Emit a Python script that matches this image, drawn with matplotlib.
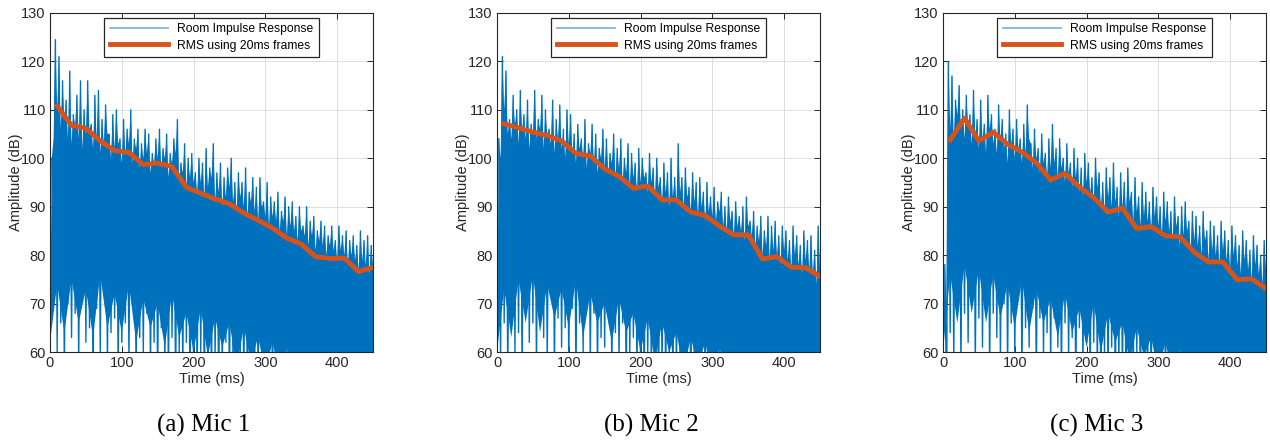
import numpy as np
import matplotlib
matplotlib.use("Agg")
import matplotlib.pyplot as plt

# Room impulse response (dB):
#   peaks   - spike tips at t = 2.5, 7.5, ... 447.5 ms
#   notches - dips between spikes at t = 5, 10, ... 450 ms
#   troughs - lowest excursions at t = 5, 10, ... 450 ms (below 60 = off axis)
#   floor   - lower edge of the solid part of the trace at t = 0, 10, ... 450 ms
mic1_peaks = [
    100, 124.5, 121, 116, 112, 118, 109, 113, 116, 110,
    116, 107, 113, 114, 108, 111, 105, 109, 110, 104,
    108, 106, 110, 104, 106, 103, 106, 105, 101, 104,
    106, 102, 105, 101, 104, 108, 99, 103, 100, 101,
    97, 100, 99, 102, 98, 103, 97, 99, 96, 98,
    100, 95, 97, 95, 98, 93, 96, 94, 96, 91,
    95, 92, 91, 93, 89, 92, 90, 91, 88, 90,
    86, 90, 87, 88, 85, 87, 86, 84, 86, 83,
    86, 84, 85, 83, 84, 82, 85, 83, 84, 82,
]
mic1_notches = [
    104, 110, 106, 108, 104, 103, 107, 104, 102, 105,
    106, 102, 104, 101, 103, 105, 100, 102, 103, 99,
    101, 103, 99, 102, 98, 100, 101, 97, 99, 100,
    98, 100, 96, 99, 101, 95, 97, 94, 96, 95,
    93, 95, 92, 94, 96, 91, 93, 90, 92, 94,
    91, 89, 92, 90, 88, 91, 89, 87, 90, 88,
    86, 88, 87, 85, 87, 84, 86, 85, 83, 85,
    84, 82, 84, 81, 83, 82, 80, 82, 81, 79,
    81, 80, 78, 80, 79, 77, 79, 78, 76, 78,
]
mic1_troughs = [
    76, 60, 66, 55, 70, 63, 68, 57, 72, 62,
    65, 52, 69, 60, 73, 58, 64, 67, 55, 62,
    66, 58, 70, 54, 63, 60, 68, 56, 62, 53,
    65, 57, 54, 63, 51, 60, 56, 62, 52, 58,
    54, 60, 51, 56, 53, 59, 50, 55, 62, 52,
    56, 51, 58, 53, 50, 57, 54, 52, 59, 51,
    55, 52, 58, 50, 54, 57, 51, 53, 56, 50,
    54, 52, 57, 51, 53, 55, 50, 56, 52, 54,
    51, 55, 53, 50, 57, 52, 54, 51, 56, 53,
]
mic1_floor = [
    62, 74, 64, 75, 66, 73, 63, 76, 65, 72,
    64, 74, 62, 71, 65, 70, 61, 72, 63, 68,
    60, 69, 59, 67, 61, 66, 57, 65, 58, 63,
    56, 62, 55, 61, 54, 60, 53, 59, 52, 58,
    51, 57, 52, 56, 50, 55,
]
mic2_peaks = [
    104, 121, 118, 108, 113, 110, 114, 109, 112, 107,
    114, 108, 113, 110, 106, 112, 108, 111, 106, 110,
    109, 105, 107, 104, 108, 103, 107, 105, 102, 106,
    104, 101, 105, 102, 104, 100, 103, 101, 99, 102,
    100, 97, 101, 98, 100, 96, 99, 97, 100, 96,
    103, 96, 98, 94, 97, 95, 96, 93, 95, 92,
    94, 91, 93, 90, 92, 89, 91, 88, 90, 92,
    87, 89, 86, 88, 85, 88, 86, 87, 84, 86,
    85, 83, 86, 84, 82, 85, 83, 84, 81, 86,
]
mic2_notches = [
    100, 110, 105, 104, 107, 103, 106, 104, 102, 105,
    104, 106, 102, 105, 103, 101, 104, 102, 100, 103,
    101, 99, 102, 100, 98, 101, 99, 97, 100, 98,
    97, 99, 96, 98, 95, 97, 94, 96, 93, 95,
    96, 93, 95, 92, 94, 91, 93, 90, 92, 91,
    93, 90, 92, 89, 91, 88, 90, 87, 89, 88,
    87, 89, 86, 85, 87, 84, 86, 85, 83, 86,
    84, 82, 83, 80, 82, 79, 81, 80, 78, 81,
    79, 77, 80, 78, 76, 79, 77, 76, 74, 77,
]
mic2_troughs = [
    58, 66, 54, 70, 60, 64, 55, 71, 62, 66,
    56, 69, 63, 58, 73, 55, 67, 61, 65, 57,
    69, 54, 66, 60, 72, 57, 68, 55, 63, 61,
    70, 55, 64, 58, 66, 52, 60, 63, 55, 58,
    52, 59, 55, 61, 50, 56, 53, 58, 51, 55,
    57, 52, 60, 50, 55, 53, 58, 51, 56, 54,
    50, 56, 53, 59, 51, 54, 57, 52, 55, 50,
    56, 52, 54, 57, 50, 55, 53, 51, 56, 52,
    54, 50, 57, 53, 51, 55, 52, 56, 50, 54,
]
mic2_floor = [
    60, 73, 63, 75, 66, 76, 64, 74, 67, 73,
    65, 75, 63, 72, 66, 70, 62, 71, 64, 68,
    60, 67, 58, 66, 60, 64, 56, 63, 57, 62,
    55, 61, 54, 60, 53, 59, 52, 58, 51, 57,
    50, 56, 52, 55, 50, 54,
]
mic3_peaks = [
    78, 120, 117, 112, 115, 110, 113, 109, 114, 108,
    112, 107, 113, 109, 106, 111, 108, 105, 110, 106,
    108, 104, 107, 111, 103, 106, 102, 105, 101, 104,
    107, 102, 104, 100, 103, 99, 102, 100, 98, 101,
    99, 96, 100, 97, 95, 98, 96, 99, 94, 97,
    95, 98, 93, 96, 92, 95, 93, 91, 94, 92,
    90, 93, 91, 89, 92, 88, 90, 91, 87, 89,
    88, 86, 89, 85, 87, 86, 84, 87, 85, 83,
    86, 84, 82, 85, 83, 81, 84, 82, 80, 83,
]
mic3_notches = [
    70, 106, 104, 109, 106, 104, 107, 103, 105, 102,
    104, 101, 106, 103, 101, 104, 102, 99, 103, 100,
    102, 99, 101, 104, 98, 100, 97, 99, 96, 98,
    99, 96, 98, 95, 97, 94, 96, 93, 92, 95,
    93, 91, 94, 90, 89, 92, 90, 91, 88, 90,
    89, 91, 87, 89, 86, 88, 87, 85, 88, 86,
    84, 87, 85, 83, 86, 82, 84, 85, 81, 83,
    82, 80, 83, 79, 81, 80, 78, 81, 79, 77,
    80, 78, 76, 79, 77, 75, 78, 76, 74, 77,
]
mic3_troughs = [
    50, 64, 58, 71, 56, 68, 62, 73, 57, 67,
    61, 72, 55, 68, 63, 58, 70, 56, 66, 60,
    71, 55, 65, 61, 69, 54, 67, 59, 64, 57,
    67, 61, 54, 66, 59, 63, 52, 65, 57, 62,
    53, 62, 56, 51, 59, 54, 61, 52, 58, 55,
    50, 57, 53, 60, 51, 56, 54, 52, 58, 50,
    55, 52, 57, 50, 54, 56, 51, 53, 55, 50,
    53, 56, 51, 54, 52, 55, 50, 53, 56, 51,
    54, 52, 50, 55, 53, 51, 56, 52, 54, 50,
]
mic3_floor = [
    60, 76, 66, 78, 68, 77, 66, 76, 67, 74,
    65, 75, 64, 73, 66, 71, 63, 72, 64, 69,
    61, 70, 60, 68, 62, 66, 58, 65, 59, 63,
    56, 62, 55, 61, 54, 60, 53, 59, 52, 58,
    51, 57, 52, 56, 50, 55,
]

# RMS over 20 ms frames, frame centres at 10, 30, ... 450 ms
mic1_rms = [110.8, 106.8, 106.2, 103.6, 101.6, 101.2, 98.7, 99.0, 98.3, 94.0,
            92.8, 91.6, 90.6, 88.7, 87.2, 85.6, 83.5, 82.3, 79.7, 79.3,
            79.4, 76.6, 77.5]
mic2_rms = [107.1, 106.3, 105.4, 104.7, 103.6, 101.0, 100.5, 97.8, 96.3, 93.8,
            94.3, 91.4, 91.4, 88.9, 88.2, 86.0, 84.2, 84.2, 79.2, 79.7,
            77.5, 77.4, 75.6]
mic3_rms = [103.8, 108.3, 103.6, 105.4, 102.9, 101.3, 99.1, 95.5, 96.9, 94.1,
            91.9, 88.9, 89.7, 85.5, 85.9, 84.0, 83.8, 80.6, 78.6, 78.6,
            74.9, 75.1, 73.1]

captions = ["(a) Mic 1", "(b) Mic 2", "(c) Mic 3"]
x_ticks = [0, 100, 200, 300, 400]
y_ticks = [60, 70, 80, 90, 100, 110, 120, 130]

BLUE = "#0072BD"
ORANGE = "#D95319"

plt.rcParams["font.family"] = ["Liberation Sans", "DejaVu Sans"]


def interleave(a, b):
    out = np.empty(len(a) + len(b))
    out[0::2], out[1::2] = a, b
    return out


def main():
    W, H = 1270, 440
    fig = plt.figure(figsize=(W / 100, H / 100), dpi=100)

    t_peak = np.arange(2.5, 450, 5)
    t_dip = np.arange(5, 451, 5)
    t_floor = np.arange(0, 451, 10)
    t_rms = np.arange(10, 451, 20)
    t_zz = interleave(t_peak, t_dip)

    panels = [
        (mic1_peaks, mic1_notches, mic1_troughs, mic1_floor, mic1_rms, 50),
        (mic2_peaks, mic2_notches, mic2_troughs, mic2_floor, mic2_rms, 497),
        (mic3_peaks, mic3_notches, mic3_troughs, mic3_floor, mic3_rms, 943),
    ]

    for (peaks, notches, troughs, floor, rms, left), cap in zip(panels, captions):
        ax = fig.add_axes([left / W, 1 - 352 / H, 323 / W, 339 / H])

        # solid core of the dense trace: from the floor up to the spiky top edge
        v_top = interleave(peaks, notches)
        ax.fill(np.r_[t_zz, t_floor[::-1]], np.r_[v_top, np.asarray(floor)[::-1]],
                color=BLUE, lw=0)
        # individual excursions down to the troughs
        ax.plot(t_zz, interleave(peaks, troughs), color=BLUE, lw=1.0,
                label="Room Impulse Response")
        ax.plot(t_rms, rms, color=ORANGE, lw=3.5, label="RMS using 20ms frames")

        ax.set_xlim(0, 450)
        ax.set_ylim(60, 130)
        ax.set_xticks(x_ticks)
        ax.set_yticks(y_ticks)
        ax.grid(True, color="#d9d9d9", lw=0.6)
        ax.set_axisbelow(True)
        ax.tick_params(direction="in", top=True, right=True, length=4,
                       labelsize=10.5, colors="#262626", width=0.7, pad=3)
        for s in ax.spines.values():
            s.set_color("#262626")
            s.set_linewidth(0.8)
        ax.set_xlabel("Time (ms)", fontsize=10.5, color="#262626", labelpad=1)
        ax.set_ylabel("Amplitude (dB)", fontsize=10.5, color="#262626", labelpad=-1)

        leg = ax.legend(loc="upper center", fontsize=8.7, fancybox=False,
                        edgecolor="#262626", framealpha=1, handlelength=4.8,
                        borderaxespad=0.4, borderpad=0.45, labelspacing=0.35)
        leg.get_frame().set_linewidth(0.9)
        leg.get_lines()[0].set_linewidth(1.2)
        leg.get_lines()[0].set_alpha(0.55)

        fig.text((left + 161 - 7) / W, 1 - 425 / H, cap, ha="center", va="center",
                 fontsize=18, family=["Liberation Serif", "DejaVu Serif"])

    fig.savefig("out.png", dpi=100)


if __name__ == "__main__":
    main()
